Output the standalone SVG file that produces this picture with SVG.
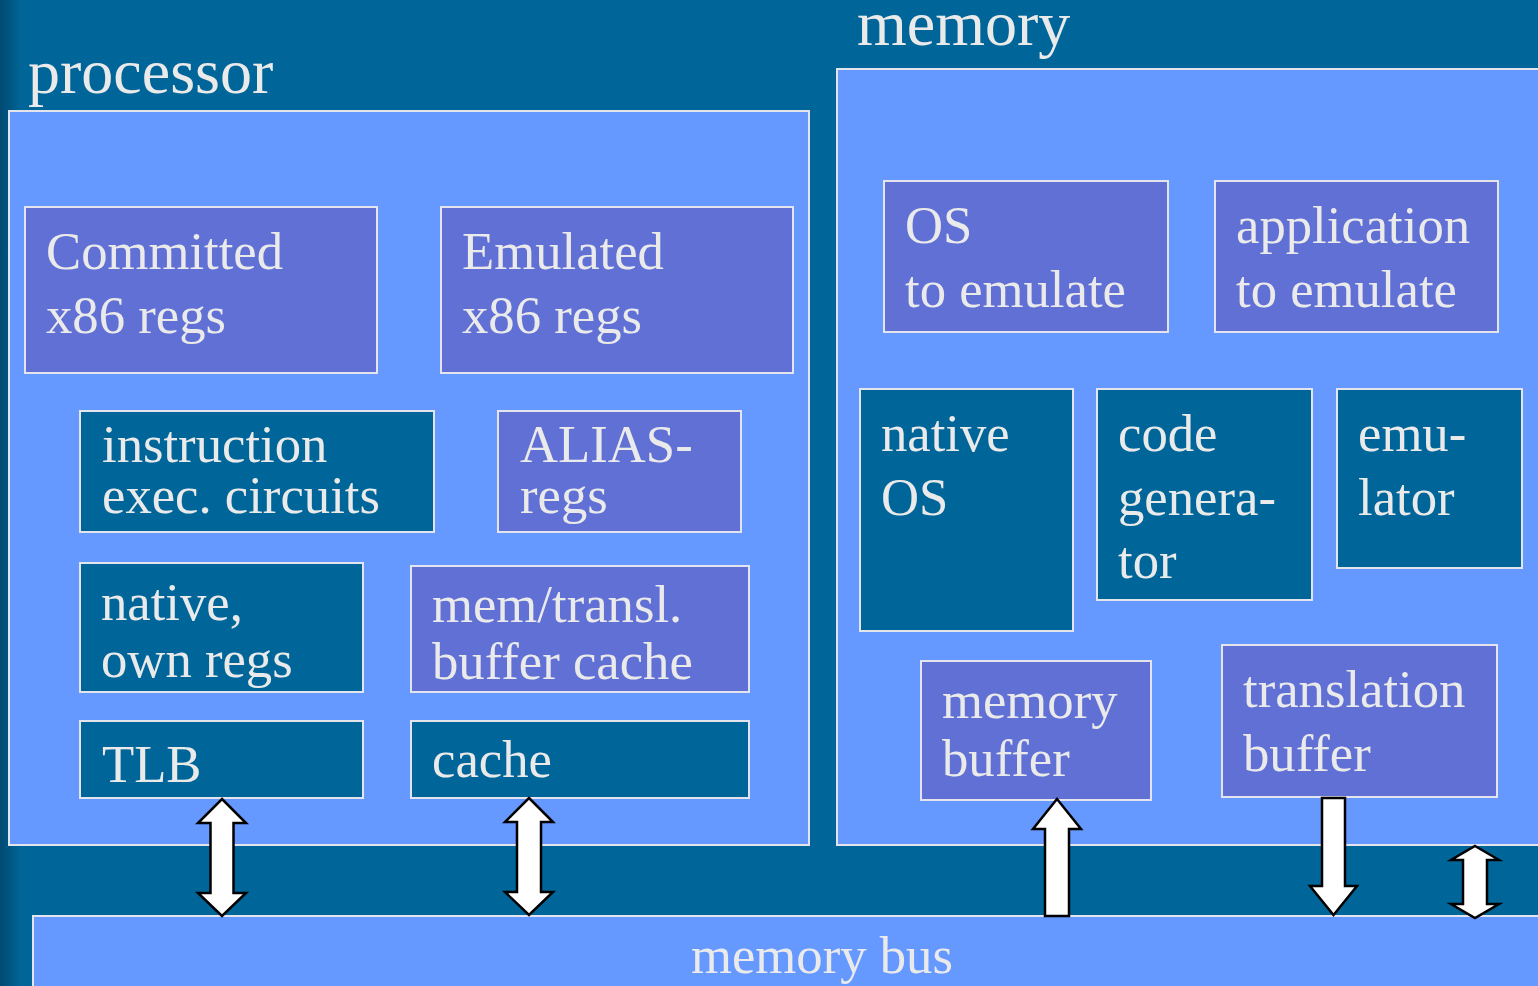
<svg xmlns="http://www.w3.org/2000/svg" width="1538" height="986" viewBox="0 0 1538 986">
<defs>
<linearGradient id="edge" x1="0" y1="0" x2="1" y2="0">
<stop offset="0" stop-color="#004a72"/>
<stop offset="1" stop-color="#006699"/>
</linearGradient>
<style>
.bg{fill:#006699}
.outer{fill:#6699FF;stroke:#E4E4EC;stroke-width:2}
.dark{fill:#006699;stroke:#E4E4EC;stroke-width:2}
.purp{fill:#6070D4;stroke:#E4E4EC;stroke-width:2}
text{font-family:"Liberation Serif","Times New Roman",serif;fill:#EAEAEA;font-size:52.7px}
.title{font-size:64px}
.arr{fill:#FFFFFF;stroke:#000000;stroke-width:2.5;stroke-linejoin:miter}
</style>
</defs>
<rect class="bg" x="0" y="0" width="1538" height="986"/>
<rect x="0" y="0" width="22" height="986" fill="url(#edge)"/>

<g id="processor">
<text class="title" x="28" y="93">processor</text>
<rect class="outer" x="9" y="111" width="800" height="734"/>
</g>
<g id="memory">
<text class="title" x="857" y="45">memory</text>
<rect class="outer" x="837" y="69" width="710" height="776"/>
</g>
<g id="memory-bus">
<rect class="outer" x="33" y="916" width="1515" height="80"/>
<text x="691" y="973">memory bus</text>
</g>

<g id="committed-regs">
<rect class="purp" x="25" y="207" width="352" height="166"/>
<text x="46" y="269">Committed</text>
<text x="46" y="333">x86 regs</text>
</g>
<g id="emulated-regs">
<rect class="purp" x="441" y="207" width="352" height="166"/>
<text x="462" y="269">Emulated</text>
<text x="462" y="333">x86 regs</text>
</g>
<g id="exec-circuits">
<rect class="dark" x="80" y="411" width="354" height="121"/>
<text x="102" y="462">instruction</text>
<text x="102" y="513">exec. circuits</text>
</g>
<g id="alias-regs">
<rect class="purp" x="498" y="411" width="243" height="121"/>
<text x="520" y="462">ALIAS-</text>
<text x="520" y="513">regs</text>
</g>
<g id="native-regs">
<rect class="dark" x="80" y="563" width="283" height="129"/>
<text x="101" y="620">native,</text>
<text x="101" y="677">own regs</text>
</g>
<g id="buffer-cache">
<rect class="purp" x="411" y="566" width="338" height="126"/>
<text x="432" y="622">mem/transl.</text>
<text x="432" y="679">buffer cache</text>
</g>
<g id="tlb">
<rect class="dark" x="80" y="721" width="283" height="77"/>
<text x="102" y="782">TLB</text>
</g>
<g id="cache">
<rect class="dark" x="411" y="721" width="338" height="77"/>
<text x="432" y="777">cache</text>
</g>

<g id="os-to-emulate">
<rect class="purp" x="884" y="181" width="284" height="151"/>
<text x="905" y="243">OS</text>
<text x="905" y="307">to emulate</text>
</g>
<g id="app-to-emulate">
<rect class="purp" x="1215" y="181" width="283" height="151"/>
<text x="1236" y="243">application</text>
<text x="1236" y="307">to emulate</text>
</g>
<g id="native-os">
<rect class="dark" x="860" y="389" width="213" height="242"/>
<text x="881" y="451">native</text>
<text x="881" y="515">OS</text>
</g>
<g id="code-generator">
<rect class="dark" x="1097" y="389" width="215" height="211"/>
<text x="1118" y="451">code</text>
<text x="1118" y="515">genera-</text>
<text x="1118" y="578">tor</text>
</g>
<g id="emulator">
<rect class="dark" x="1337" y="389" width="185" height="179"/>
<text x="1358" y="451">emu-</text>
<text x="1358" y="515">lator</text>
</g>
<g id="memory-buffer">
<rect class="purp" x="921" y="661" width="230" height="139"/>
<text x="942" y="718">memory</text>
<text x="942" y="776">buffer</text>
</g>
<g id="translation-buffer">
<rect class="purp" x="1222" y="645" width="275" height="152"/>
<text x="1243" y="707">translation</text>
<text x="1243" y="771">buffer</text>
</g>

<g id="connectors">
<polygon class="arr" points="222,799 246,823 233.5,823 233.5,893 246,893 222,916 198,893 210.5,893 210.5,823 198,823"/>
<polygon class="arr" points="529,798 553,822 541,822 541,892 553,892 529,915 505,892 517,892 517,822 505,822"/>
<polygon class="arr" points="1057,799 1081,829 1069,829 1069,916 1045,916 1045,829 1033,829"/>
<polygon class="arr" points="1322,798 1345,798 1345,886 1357,886 1333.5,915 1310,886 1322,886"/>
<polygon class="arr" points="1475,846 1499,860 1487,860 1487,904 1499,904 1475,918 1451,904 1463,904 1463,860 1451,860"/>
</g>
</svg>
